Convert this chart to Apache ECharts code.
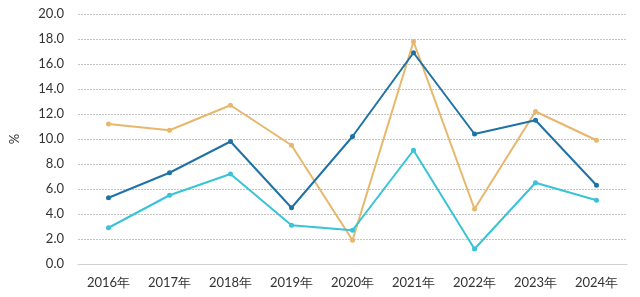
<!DOCTYPE html>
<html><head><meta charset="utf-8">
<script src="https://cdn.jsdelivr.net/npm/echarts@6/dist/echarts.min.js"></script>
<style>html,body{margin:0;padding:0;background:#fff}#c{width:640px;height:297px}</style>
</head><body><div id="c"></div>
<script>
var categories = ['2016年','2017年','2018年','2019年','2020年','2021年','2022年','2023年','2024年'];
var seriesDark = [5.3, 7.3, 9.8, 4.5, 10.2, 16.9, 10.4, 11.5, 6.3];
var seriesGold = [11.2, 10.7, 12.7, 9.5, 1.9, 17.8, 4.4, 12.2, 9.9];
var seriesCyan = [2.9, 5.5, 7.2, 3.1, 2.7, 9.1, 1.2, 6.5, 5.1];
var chart = echarts.init(document.getElementById('c'), null, {renderer:'canvas'});
var font = 'Lato';
function mk(data, color){
  return {type:'line', data:data, symbol:'circle', symbolSize:5, lineStyle:{width:2, color:color}, itemStyle:{color:color}};
}
chart.setOption({
  animation:false,
  grid:{left:72, right:13, top:14, bottom:33},
  xAxis:{type:'category', data:categories, boundaryGap:true,
    axisLine:{lineStyle:{color:'#d0d0d0'}}, axisTick:{show:false},
    axisLabel:{color:'#333', fontFamily:font, fontSize:13, margin:12}},
  yAxis:{type:'value', min:0, max:20, interval:2, name:'%', nameLocation:'middle', nameGap:57,
    nameTextStyle:{color:'#333', fontFamily:font, fontSize:13},
    axisLine:{show:false}, axisTick:{show:false},
    axisLabel:{color:'#333', fontFamily:font, fontSize:13, margin:14, formatter:function(v){return v.toFixed(1);}},
    splitLine:{lineStyle:{color:'#c4c4c4', type:[2,1]}}},
  series:[mk(seriesGold,'#e7b76b'), mk(seriesDark,'#1f72a6'), mk(seriesCyan,'#38c3d6')]
});
</script></body></html>
